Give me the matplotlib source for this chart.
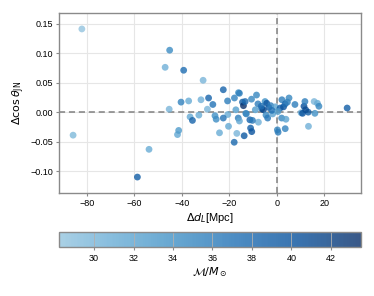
import matplotlib
matplotlib.use("Agg")
import matplotlib.pyplot as plt
import numpy as np
from matplotlib.colors import LinearSegmentedColormap

plt.rcParams['font.family'] = ['Liberation Sans', 'DejaVu Sans']
plt.rcParams['mathtext.fontset'] = 'dejavusans'

# delta d_L [Mpc], delta cos(theta_JN), chirp mass [Msun]
ddl = [-82.1, -85.8, -45.1, -47.0, -39.2, -31.0, -53.8, -58.7, -45.3, -40.3,
       -37.1, -36.5, -35.5, -41.8, -41.3, -32.8, -31.9, -28.7, -29.2, -26.9,
       -26.0, -25.5, -24.1, -22.5, -20.7, -20.3, -20.6, -17.9, -17.8, -16.8,
       -16.1, -15.7, -17.2, -16.2, -15.7, -14.4, -14.0, -13.3, -12.8, -11.3,
       -13.7, -11.0, -10.5, -10.6, -8.5, -7.9, -7.7, -10.2, -6.3, -5.6,
       -4.9, -4.2, -4.5, -3.8, -3.3, -2.5, -1.7, -0.6, 0.3, 0.6,
       2.2, 1.5, 2.1, 2.9, 3.6, 3.6, 3.9, 4.5, 5.2, 7.7,
       10.3, 11.5, 11.9, 10.9, 13.3, 13.4, 15.8, 16.1, 17.2, 17.8,
       29.7, 12.2, -22.5, -13.0, -6.5, -2.0, 0.5, -9.0]
dcos = [0.141, -0.039, 0.105, 0.076, 0.071, 0.054, -0.063, -0.110, 0.005, 0.017,
        0.019, -0.008, -0.014, -0.038, -0.031, -0.005, 0.021, 0.024, 0.005, 0.013,
        -0.006, -0.012, -0.035, 0.038, 0.019, -0.024, -0.004, -0.051, 0.024, -0.036,
        0.033, 0.032, 0.004, -0.010, -0.015, 0.017, 0.011, 0.018, -0.003, -0.013,
        -0.040, -0.027, -0.033, 0.022, 0.029, 0.014, -0.017, -0.014, 0.006, 0.004,
        0.018, 0.015, -0.005, -0.010, 0.008, 0.011, -0.003, 0.009, -0.030, -0.034,
        0.021, 0.007, -0.010, 0.009, 0.014, -0.028, -0.012, 0.017, 0.024, 0.013,
        -0.001, 0.010, 0.018, -0.002, 0.000, -0.024, 0.018, -0.002, 0.015, 0.010,
        0.007, 0.004, -0.010, -0.002, 0.010, 0.003, 0.001, 0.004]
mchirp = [28.23, 29.5, 34.5, 30.5, 37.5, 30.0, 31.0, 39.0, 30.0, 35.5,
          31.0, 31.5, 38.5, 31.5, 33.0, 31.0, 30.5, 38.5, 30.0, 37.0,
          34.0, 34.5, 31.0, 38.5, 36.0, 31.5, 31.0, 38.0, 35.5, 30.0,
          34.0, 36.0, 32.5, 36.0, 31.5, 39.0, 43.52, 38.0, 35.0, 38.5,
          39.5, 39.0, 40.0, 35.0, 35.0, 36.0, 30.5, 36.5, 39.0, 41.5,
          34.0, 40.0, 35.0, 36.5, 39.5, 36.0, 32.0, 32.0, 35.0, 36.0,
          36.0, 39.0, 35.0, 40.0, 38.0, 35.5, 32.0, 36.0, 35.0, 36.0,
          31.0, 40.5, 36.0, 40.0, 39.0, 30.5, 30.0, 34.0, 31.0, 35.0,
          39.0, 41.0, 37.0, 35.0, 37.5, 37.0, 33.0, 33.0]

blues = plt.get_cmap('Blues')
cmap = LinearSegmentedColormap.from_list('blues_cut', blues(np.linspace(0.4, 1.0, 256)))

fig = plt.figure(figsize=(3.74, 2.96), dpi=100)
ax = fig.add_axes([0.158, 0.348, 0.807, 0.608])
cax = fig.add_axes([0.158, 0.1645, 0.807, 0.0507])

grey = '#8a8a8a'
ax.set_axisbelow(True)
ax.grid(True, color='#e6e6e6', lw=0.8)
ax.axvline(0, color='#808080', ls='--', lw=1.1, dashes=(4, 2.5))
ax.axhline(0, color='#808080', ls='--', lw=1.1, dashes=(4, 2.5))
sc = ax.scatter(ddl, dcos, c=mchirp, cmap=cmap, s=24, alpha=0.8, edgecolors='none', zorder=3)

ax.set_xlim(-91.7, 35.5)
ax.set_ylim(-0.137, 0.168)
ax.set_xticks([-80, -60, -40, -20, 0, 20])
ax.set_yticks([-0.10, -0.05, 0.0, 0.05, 0.10, 0.15])
ax.set_yticklabels(['−0.10', '−0.05', '0.00', '0.05', '0.10', '0.15'])
ax.set_xlabel(r'$\Delta d_L$[Mpc]', fontsize=8, labelpad=2)
ax.set_ylabel(r'$\Delta \cos\theta_{\rm JN}$', fontsize=8, labelpad=2)
for sp in ax.spines.values():
    sp.set_color(grey)
    sp.set_linewidth(1.0)
ax.tick_params(labelsize=6.5, length=2.5, width=0.8, color=grey, pad=2)

cb = fig.colorbar(sc, cax=cax, orientation='horizontal')
cb.set_ticks([30, 32, 34, 36, 38, 40, 42])
cb.set_label(r'$\mathcal{M}/M_\odot$', fontsize=8, labelpad=2)
cb.outline.set_edgecolor(grey)
cb.outline.set_linewidth(1.0)
cax.grid(True, axis='x', color='#b0b0b0', lw=0.6)
cax.tick_params(labelsize=6.5, length=2.5, width=0.8, color=grey, pad=2)

fig.savefig('out.png', dpi=100)
